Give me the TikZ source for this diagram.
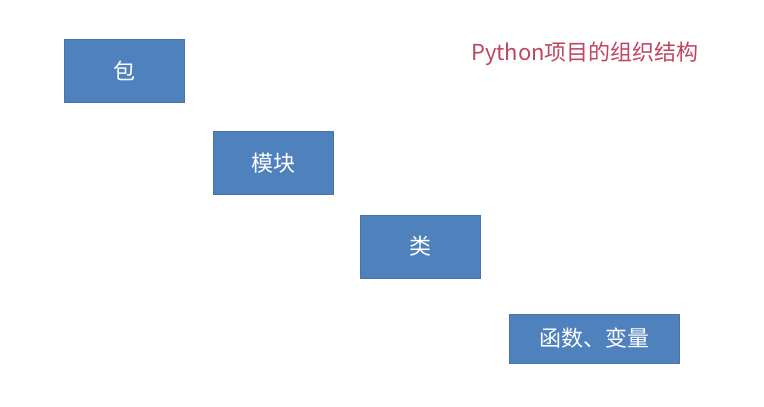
\documentclass[tikz,border=0pt]{standalone}
\usepackage{fontspec}
\newfontfamily\cjk{Noto Sans CJK SC}
\usepackage{tikz}
\definecolor{boxblue}{HTML}{4F81BD}
\definecolor{titlered}{HTML}{C0455F}
\tikzstyle{box}=[rectangle, fill=boxblue, draw=boxblue!90!black, line width=0.4pt, inner sep=0pt, minimum width=120pt, minimum height=63pt, text=white, font=\cjk\fontsize{22}{26}\selectfont]
\tikzstyle{widebox}=[box, minimum width=170pt, minimum height=49pt]
\tikzstyle{titlesty}=[text=titlered, inner sep=0pt, font=\cjk\fontsize{22}{26}\selectfont]

\begin{document}
\begin{tikzpicture}[x=1pt,y=-1pt]
				\useasboundingbox (0,0) rectangle (764,407);
				\node[box] (pkg) at (124.5,70.5) {包};
				\node[box] (mod) at (273,163) {模块};
				\node[box] (cls) at (420.5,246.5) {类};
				\node[widebox] (func) at (594,338.5) {函数、变量};
				\node[titlesty] (title) at (585,54) {Python项目的组织结构};
			\end{tikzpicture}
\end{document}
